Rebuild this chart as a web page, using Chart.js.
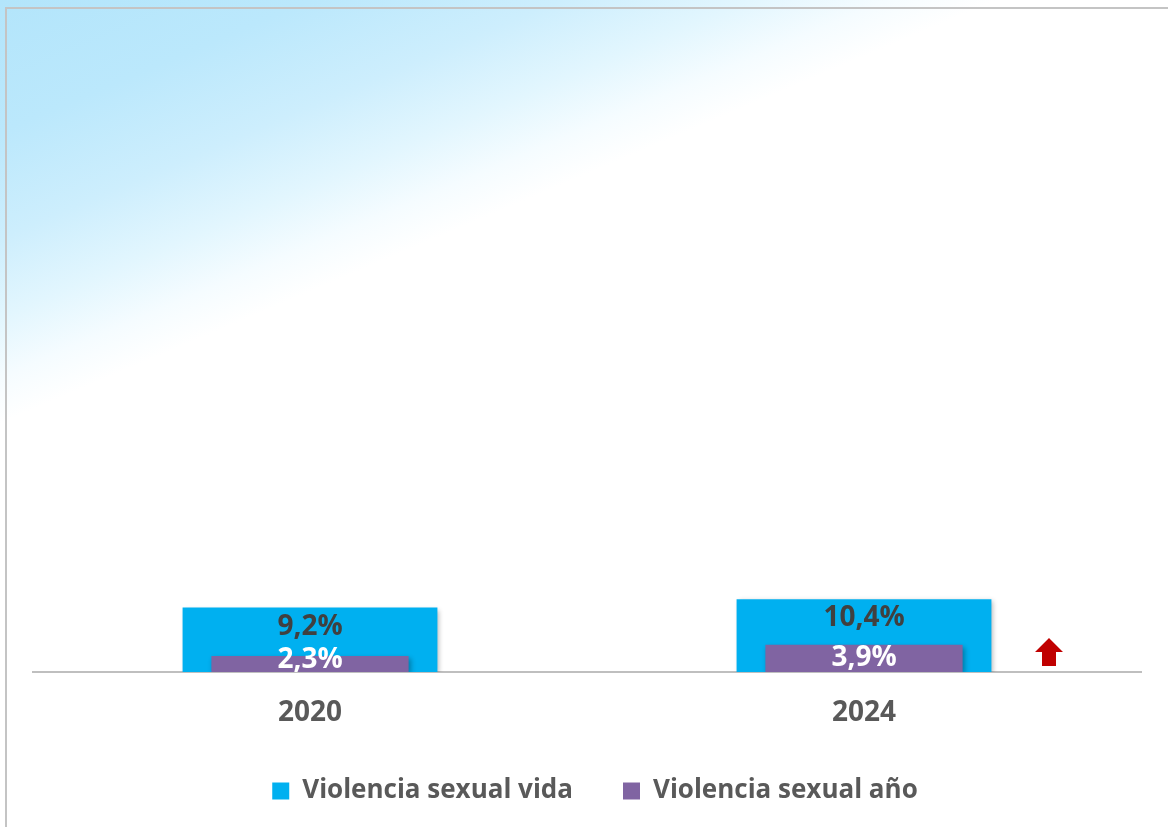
<!DOCTYPE html>
<html>
<head>
<meta charset="utf-8">
<script src="https://cdn.jsdelivr.net/npm/chart.js@4/dist/chart.umd.min.js"></script>
<style>
  html, body { margin: 0; padding: 0; }
  body {
    width: 1168px; height: 827px; overflow: hidden; position: relative;
    background: linear-gradient(157deg, #b3e5fb 0%, #bbe8fc 10%, #cdeefd 18%, #e2f6fe 24%, #f5fcff 28.5%, #ffffff 32%);
  }
  #frame { position: absolute; left: 5px; top: 7px; width: 1200px; height: 900px;
    border-top: 2px solid #c4c4c4; border-left: 2px solid #c4c4c4; }
  #c { position: absolute; left: 0; top: 0; }
</style>
</head>
<body>
<div id="frame"></div>
<canvas id="c" width="1168" height="827"></canvas>
<script>
const categories = ['2020', '2024'];
const violenciaVida = [9.2, 10.4];
const violenciaAnio = [2.3, 3.9];
const seriesNames = ['Violencia sexual vida', 'Violencia sexual año'];

const FONT = '"Open Sans", "DejaVu Sans", sans-serif';

const fmt = v => v.toFixed(1).replace('.', ',') + '%';

const shadowPlugin = {
  id: 'barShadow',
  beforeDatasetDraw(chart) {
    const ctx = chart.ctx;
    ctx.save();
    ctx.shadowColor = 'rgba(0,0,0,0.3)';
    ctx.shadowBlur = 5;
    ctx.shadowOffsetX = 2;
    ctx.shadowOffsetY = 2;
  },
  afterDatasetDraw(chart) {
    chart.ctx.restore();
  }
};

const labelPlugin = {
  id: 'valueLabels',
  afterDatasetsDraw(chart) {
    const ctx = chart.ctx;
    ctx.save();
    ctx.font = 'bold 28px ' + FONT;
    ctx.textAlign = 'center';
    ctx.textBaseline = 'middle';
    chart.data.datasets.forEach((ds, di) => {
      const meta = chart.getDatasetMeta(di);
      meta.data.forEach((el, i) => {
        const v = ds.data[i];
        let y;
        if (di === 0) {
          ctx.fillStyle = '#404040';
          y = el.y + 19;
        } else {
          ctx.fillStyle = '#ffffff';
          y = Math.min((el.y + el.base) / 2, el.base - 12);
        }
        ctx.fillText(fmt(v), el.x, y);
      });
    });
    ctx.restore();
  }
};

const arrowPlugin = {
  id: 'upArrow',
  afterDatasetsDraw(chart) {
    const ctx = chart.ctx;
    const xs = chart.scales.x, ys = chart.scales.y;
    const cx = xs.getPixelForValue(1) + 185;
    const base = ys.getPixelForValue(0);
    ctx.save();
    ctx.fillStyle = '#C00000';
    ctx.beginPath();
    ctx.moveTo(cx - 7, base - 6);
    ctx.lineTo(cx + 7, base - 6);
    ctx.lineTo(cx + 7, base - 20);
    ctx.lineTo(cx + 14, base - 20);
    ctx.lineTo(cx, base - 34);
    ctx.lineTo(cx - 14, base - 20);
    ctx.lineTo(cx - 7, base - 20);
    ctx.closePath();
    ctx.fill();
    ctx.restore();
  }
};

const legendShift = {
  id: 'legendShift',
  afterLayout(chart) {
    chart.legend.left += 8;
    chart.legend.right += 8;
  }
};

const chart = new Chart(document.getElementById('c'), {
  type: 'bar',
  data: {
    labels: categories,
    datasets: [
      { label: seriesNames[0], data: violenciaVida, backgroundColor: '#00B0F0',
        grouped: false, barPercentage: 0.46, categoryPercentage: 1, order: 1 },
      { label: seriesNames[1], data: violenciaAnio, backgroundColor: '#8064A2',
        grouped: false, barPercentage: 0.356, categoryPercentage: 1, order: 0 }
    ]
  },
  options: {
    responsive: false,
    animation: false,
    layout: { padding: { top: 322, left: 33, right: 27, bottom: 13 } },
    scales: {
      x: {
        grid: { display: false, drawTicks: false },
        border: { display: true, color: '#bfbfbf', width: 2 },
        ticks: { color: '#595959', font: { family: FONT, size: 28, weight: 'bold' }, padding: 24 },
        afterFit: (scale) => { scale.height = 56; }
      },
      y: { display: false, min: 0, max: 50 }
    },
    plugins: {
      tooltip: { enabled: false },
      legend: {
        position: 'bottom',
        labels: {
          sort: (a, b) => a.datasetIndex - b.datasetIndex,
          boxWidth: 17, boxHeight: 17, padding: 50,
          color: '#595959', font: { family: FONT, size: 26, weight: 'bold' }
        }
      }
    }
  },
  plugins: [shadowPlugin, labelPlugin, arrowPlugin, legendShift]
});
</script>
</body>
</html>
